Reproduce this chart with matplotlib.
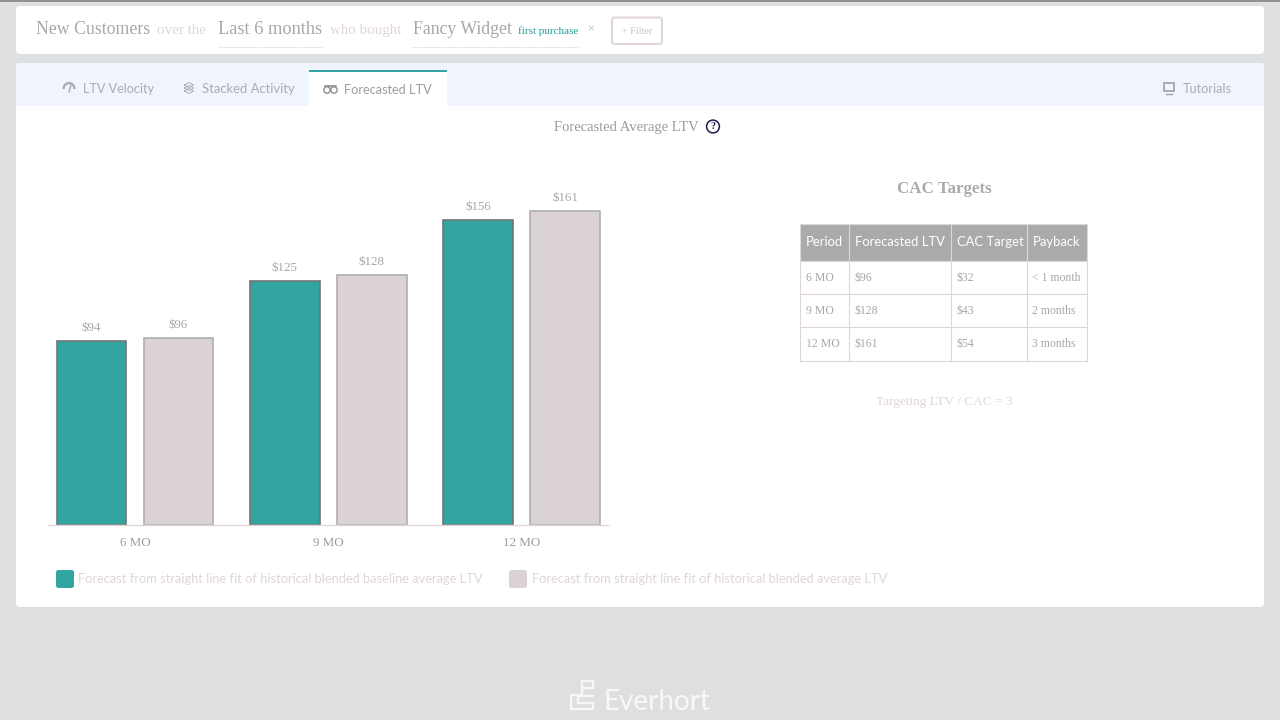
import matplotlib
matplotlib.use("Agg")
import matplotlib.pyplot as plt
from matplotlib.patches import FancyBboxPatch, Rectangle, Circle, Wedge

periods = ["6 MO", "9 MO", "12 MO"]
baseline_ltv = [94, 125, 156]
blended_ltv = [96, 128, 161]
legend_labels = ["Forecast from straight line fit of historical blended baseline average LTV",
                 "Forecast from straight line fit of historical blended average LTV"]
table_header = ["Period", "Forecasted LTV", "CAC Target", "Payback"]
table_rows = [["6 MO", "$96", "$32", "< 1 month"],
              ["9 MO", "$128", "$43", "2 months"],
              ["12 MO", "$161", "$54", "3 months"]]
col_edges = [800, 849, 951, 1027, 1087]
row_edges = [224, 261, 294, 327, 361]

TEAL = "#33A5A0"; PINK = "#DBD2D6"; GREY = "#A9ABAB"; LPINK = "#E0D5D9"
SERIF = "Liberation Serif"; SANS = "Lato"

fig = plt.figure(figsize=(12.8, 7.2), dpi=100, facecolor="#DEDFE1")
ui = fig.add_axes([0, 0, 1, 1], zorder=0)
ui.set_xlim(0, 1280); ui.set_ylim(720, 0); ui.axis("off")

def card(x0, y0, x1, y1, fc="white", r=4, ec="none", lw=0, z=1):
    ui.add_patch(FancyBboxPatch((x0 + r, y0 + r), x1 - x0 - 2 * r, y1 - y0 - 2 * r,
                                boxstyle=f"round,pad={r},rounding_size={r}", fc=fc, ec=ec, lw=lw, zorder=z))

def txt(x, y, s, size, color=GREY, family=SERIF, ha="left", weight="normal", z=5):
    ui.text(x, y, s, fontsize=size, color=color, family=family, ha=ha, va="center", weight=weight, zorder=z)

# top strip
ui.add_patch(Rectangle((0, 0), 1280, 1.5, fc="#8F9192", ec="none", zorder=1))

# filter card
card(16, 6, 1264, 54)
txt(36, 29.5, "New Customers", 12.8, "#A6A8A8")
txt(157, 30.5, "over the", 10.8, LPINK)
txt(218, 29.5, "Last 6 months", 13.2, "#A6A8A8")
txt(330, 30.5, "who bought", 10.8, LPINK)
txt(413, 29.5, "Fancy Widget", 12.8, "#A6A8A8")
txt(517.5, 31.5, "first purchase", 8, "#1E9E98")
txt(587, 28.5, "×", 8.5, "#C5C5C5", SANS)
ui.plot([219, 323], [47, 47], color="#D5D5D5", lw=0.8, ls=(0, (1, 1)), zorder=3)
ui.plot([412, 579], [47, 47], color="#D5D5D5", lw=0.8, ls=(0, (1, 1)), zorder=3)
card(612, 17.5, 662, 44, fc="white", r=2.5, ec=LPINK, lw=1.4, z=3)
txt(637, 31, "+ Filter", 7.2, "#C9C0C4", ha="center")

# main card
card(16, 63, 1264, 607)
card(16, 63, 1264, 90, fc="#EFF4FD", z=2)
ui.add_patch(Rectangle((16, 75), 1248, 31, fc="#EFF4FD", ec="none", zorder=2))
ui.add_patch(Rectangle((309, 71), 138, 36, fc="white", ec="none", zorder=3))
ui.add_patch(Rectangle((309, 70), 138, 2, fc="#33A5A0", ec="none", zorder=4))
txt(83, 89, "LTV Velocity", 9.1, "#ABADAD", SANS)
txt(201.5, 89, "Stacked Activity", 9.4, "#ABADAD", SANS)
txt(343.5, 90, "Forecasted LTV", 9.2, "#9C9E9E", SANS)
txt(1183, 89, "Tutorials", 9.2, "#ABADAD", SANS)

# tab icons
ui.add_patch(Wedge((69, 88.5), 6, 180, 360, width=1.2, fc="none", ec="#A8A8A8", lw=0.8, zorder=5))
ui.plot([69, 71], [92, 85], color="#A8A8A8", lw=1, zorder=5)
for dy in (85, 88, 91):
    ui.plot([184.5, 189, 193.5, 189, 184.5], [dy, dy - 2.5, dy, dy + 2.5, dy], color="#B0B0B0", lw=0.7, zorder=5)
for cx in (327, 334):
    ui.add_patch(Circle((cx, 90), 3.2, fc="none", ec="#8F8F8F", lw=1, zorder=5))
ui.plot([325, 336], [86, 86], color="#8F8F8F", lw=1.2, zorder=5)
ui.add_patch(Rectangle((1164, 83), 10, 8, fc="none", ec="#A0A0A0", lw=1.2, zorder=5))
ui.plot([1166, 1172], [93.5, 93.5], color="#A0A0A0", lw=1, zorder=5)

# chart title
txt(554, 127.5, "Forecasted Average LTV", 10.5, "#9A9C9C")
ui.add_patch(Circle((713, 126.5), 6.4, fc="white", ec="#1E1B4B", lw=1.1, zorder=5))
txt(713, 126.8, "?", 7.2, "#1E1B4B", SERIF, ha="center", weight="bold", z=6)

# bar chart axes: x 48..608 px, baseline at y=525 px, top at y=165 px
ax = fig.add_axes([48 / 1280, (720 - 525) / 720, 560 / 1280, 360 / 720], zorder=2)
ax.patch.set_alpha(0)
ax.set_xlim(-0.45, 2.447); ax.set_ylim(0, 184.4)
offset, width = 0.225, 0.36
xs = list(range(len(periods)))
ax.bar([x - offset for x in xs], baseline_ltv, width, color=TEAL, edgecolor="#727575", linewidth=1.2)
ax.bar([x + offset for x in xs], blended_ltv, width, color=PINK, edgecolor="#B0AFB0", linewidth=1.2)
for x, a, b in zip(xs, baseline_ltv, blended_ltv):
    ax.annotate(f"${a}", (x - offset, a), xytext=(0, 13 * 0.72), textcoords="offset points", ha="center",
                va="center", fontsize=9.4, color="#A6A8A8", family=SERIF)
    ax.annotate(f"${b}", (x + offset, b), xytext=(0, 13 * 0.72), textcoords="offset points", ha="center",
                va="center", fontsize=9.4, color="#A6A8A8", family=SERIF)
for s in ("top", "left", "right"):
    ax.spines[s].set_visible(False)
ax.spines["bottom"].set_color(LPINK); ax.spines["bottom"].set_linewidth(1.0)
ax.set_yticks([])
ax.set_xticks(xs); ax.set_xticklabels(periods, fontsize=9.4, color="#9C9E9E", family=SERIF)
ax.tick_params(axis="x", length=0, pad=8.5)

# legend
card(56, 570, 74, 588, fc=TEAL, r=2.5)
txt(78.5, 579, legend_labels[0], 9.27, LPINK, SANS)
card(509, 570, 527, 588, fc=PINK, r=2.5)
txt(531.5, 579, legend_labels[1], 9.27, LPINK, SANS)

# CAC table
txt(944, 189, "CAC Targets", 12.2, GREY, ha="center", weight="bold")
ui.add_patch(Rectangle((col_edges[0], row_edges[0]), col_edges[-1] - col_edges[0], row_edges[1] - row_edges[0],
                       fc=GREY, ec="none", zorder=3))
for c, h in enumerate(table_header):
    txt(col_edges[c] + 6, 242, h, 9.4, "white", SANS, z=6)
for r, row in enumerate(table_rows):
    for c, val in enumerate(row):
        txt(col_edges[c] + 5.5, (row_edges[r + 1] + row_edges[r + 2]) / 2 + 0.2, val, 8.5, "#A6A8A8")
for x in col_edges:
    ui.plot([x, x], [row_edges[0], row_edges[-1]], color=LPINK, lw=0.8, zorder=4)
for y in row_edges:
    ui.plot([col_edges[0], col_edges[-1]], [y, y], color=LPINK, lw=0.8, zorder=4)
txt(944, 402, "Targeting LTV / CAC = 3", 9.5, LPINK, ha="center")

# footer logo
txt(603, 702, "Everhort", 20, "#F7F8F8", SANS)
ui.plot([571, 571, 593, 593, 578, 578, 593], [695, 709, 709, 703, 703, 696, 696], color="#F7F8F8", lw=1.6, zorder=5)
ui.plot([571, 582, 582, 593, 593, 582, 582], [695, 695, 681, 681, 688, 688, 695], color="#F7F8F8", lw=1.6, zorder=5)

fig.savefig("out.png", dpi=100, facecolor=fig.get_facecolor())
